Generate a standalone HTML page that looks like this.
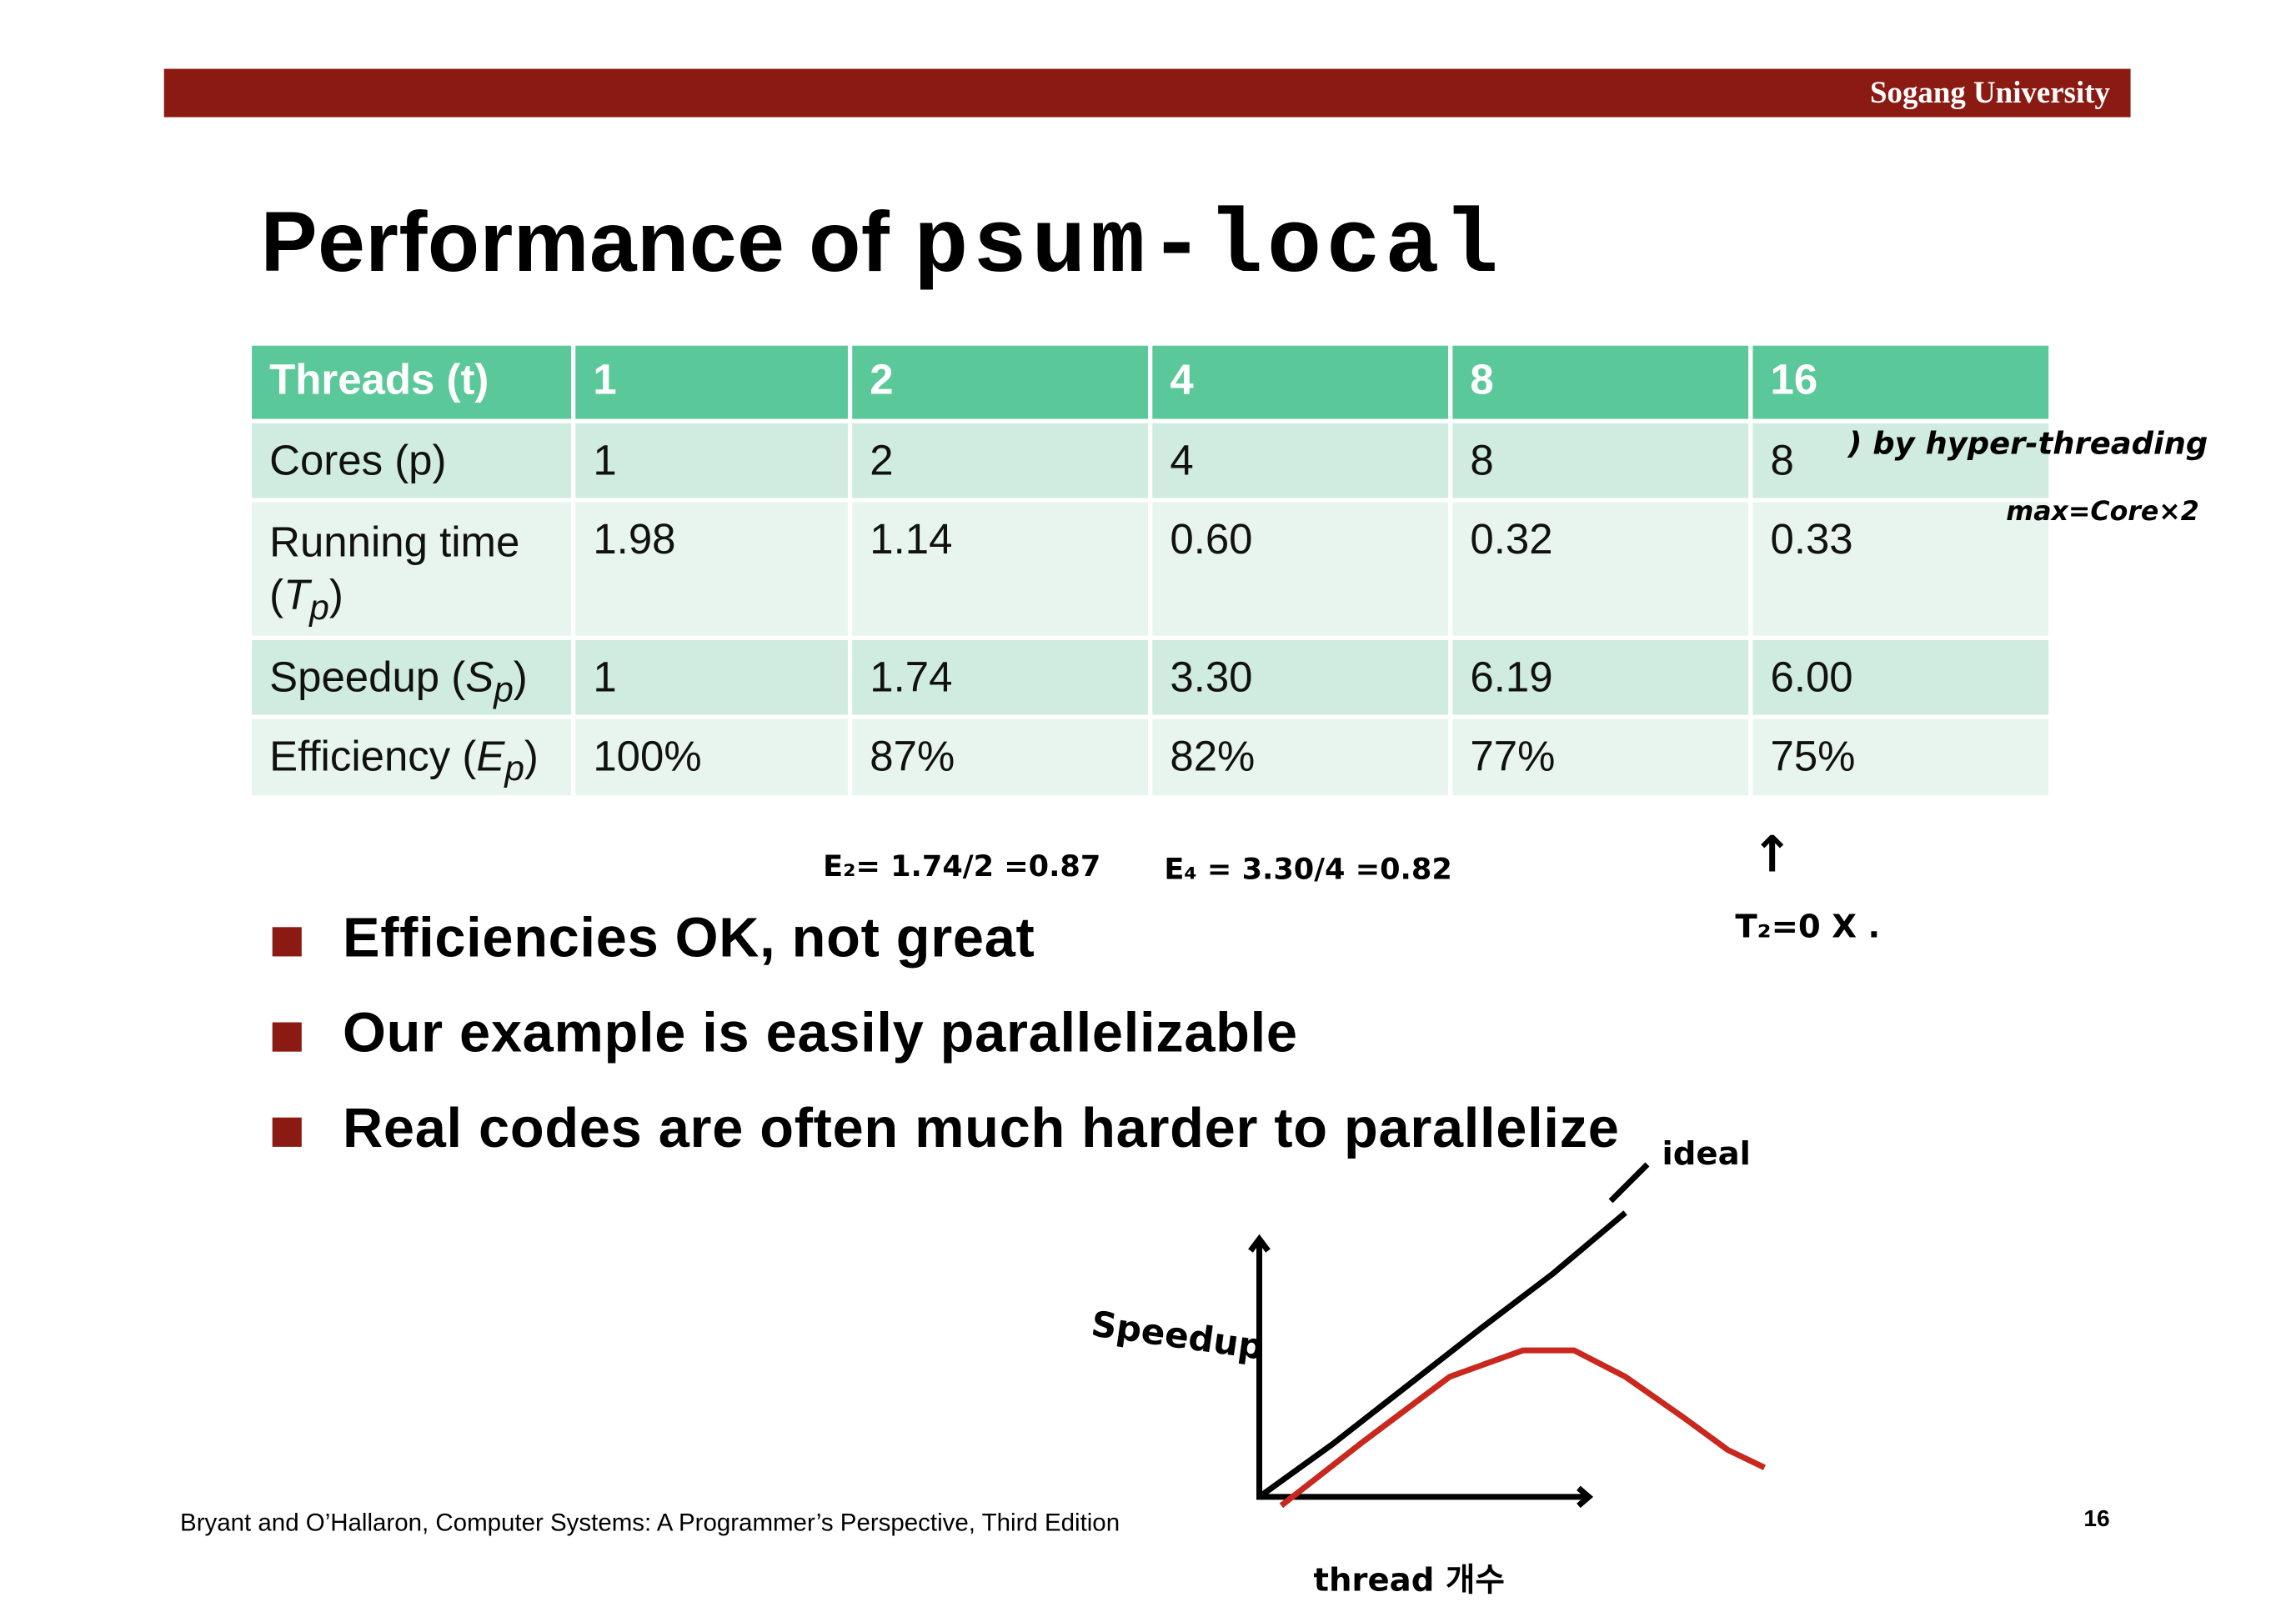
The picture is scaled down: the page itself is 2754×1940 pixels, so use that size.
<!DOCTYPE html>
<html><head><meta charset="utf-8"><style>
html,body{margin:0;padding:0;background:#fff;}
#page{width:1568px;height:1104px;position:relative;transform:scale(1.7564,1.7572);transform-origin:0 0;font-family:"Liberation Sans",sans-serif;overflow:hidden;}
.abs{position:absolute;}
table{border-collapse:separate;border-spacing:3px;}
td{font-size:29px;color:#111;padding:0 0 0 12px;vertical-align:top;box-sizing:border-box;}
sub{line-height:0;}
</style></head><body>
<div id="page">
<div class="abs" style="left:112px;top:47px;width:1343px;height:33px;background:#8B1A12;"></div>
<div class="abs" style="right:127px;top:51px;color:#fff;font:bold 21px 'Liberation Serif',serif;">Sogang University</div>
<div class="abs" style="left:178px;top:132px;font-size:58px;font-weight:bold;color:#000;white-space:nowrap;letter-spacing:0.3px;">Performance of <span style="font-family:'Liberation Mono',monospace;font-size:62px;letter-spacing:3px;">psum-local</span></div>
<table class="abs" style="left:169px;top:233px;">
<tr style="background:#5BC89A;height:50px;">
<td style="width:218px;color:#fff;font-weight:bold;padding-top:8px;">Threads (t)</td><td style="width:186px;color:#fff;font-weight:bold;padding-top:8px;">1</td><td style="width:202px;color:#fff;font-weight:bold;padding-top:8px;">2</td><td style="width:202px;color:#fff;font-weight:bold;padding-top:8px;">4</td><td style="width:202px;color:#fff;font-weight:bold;padding-top:8px;">8</td><td style="width:202px;color:#fff;font-weight:bold;padding-top:8px;">16</td></tr>
<tr style="background:#D0EBDF;height:51px;"><td style="padding-top:10px;">Cores (p)</td><td style="padding-top:10px;">1</td><td style="padding-top:10px;">2</td><td style="padding-top:10px;">4</td><td style="padding-top:10px;">8</td><td style="padding-top:10px;">8</td></tr>
<tr style="background:#E8F5EE;height:91px;"><td style="padding-top:10px;line-height:36px;height:91px;">Running time (<i>T<sub>p</sub></i>)</td><td style="padding-top:10px;">1.98</td><td style="padding-top:10px;">1.14</td><td style="padding-top:10px;">0.60</td><td style="padding-top:10px;">0.32</td><td style="padding-top:10px;">0.33</td></tr>
<tr style="background:#D0EBDF;height:51px;"><td style="padding-top:10px;height:51px;">Speedup (<i>S<sub>p</sub></i>)</td><td style="padding-top:10px;">1</td><td style="padding-top:10px;">1.74</td><td style="padding-top:10px;">3.30</td><td style="padding-top:10px;">6.19</td><td style="padding-top:10px;">6.00</td></tr>
<tr style="background:#E8F5EE;height:52px;"><td style="padding-top:10px;height:52px;">Efficiency (<i>E<sub>p</sub></i>)</td><td style="padding-top:10px;">100%</td><td style="padding-top:10px;">87%</td><td style="padding-top:10px;">82%</td><td style="padding-top:10px;">77%</td><td style="padding-top:10px;">75%</td></tr>
</table>
<div class="abs" style="left:186px;top:620px;font-size:38px;font-weight:bold;white-space:nowrap;letter-spacing:0.4px;"><span style="display:inline-block;width:20px;height:20px;background:#8B1A12;margin-right:28px;"></span>Efficiencies OK, not great</div>
<div class="abs" style="left:186px;top:685px;font-size:38px;font-weight:bold;white-space:nowrap;letter-spacing:0.4px;"><span style="display:inline-block;width:20px;height:20px;background:#8B1A12;margin-right:28px;"></span>Our example is easily parallelizable</div>
<div class="abs" style="left:186px;top:750px;font-size:38px;font-weight:bold;white-space:nowrap;letter-spacing:0.4px;"><span style="display:inline-block;width:20px;height:20px;background:#8B1A12;margin-right:28px;"></span>Real codes are often much harder to parallelize</div>
<div class="abs" style="left:123px;top:1030px;font-size:16.8px;">Bryant and O’Hallaron, Computer Systems: A Programmer’s Perspective, Third Edition</div>
<div class="abs" style="left:1423px;top:1029px;font-size:16px;font-weight:bold;">16</div>
<svg class="abs" id="ink" style="left:0;top:0;" width="1568" height="1104">
<g font-family="'DejaVu Sans',sans-serif" font-weight="bold" fill="#000">
<text x="1262" y="310" font-size="21" font-style="italic">) by hyper-threading</text>
<text x="1370" y="355" font-size="18" font-style="italic">max=Core×2</text>
<text x="562" y="598" font-size="20">E₂= 1.74/2 =0.87</text>
<text x="795" y="600" font-size="20">E₄ = 3.30/4 =0.82</text>
<text x="1196" y="595" font-size="34">↑</text>
<text x="1185" y="640" font-size="22">T₂=0 X .</text>
<text x="1135" y="795" font-size="22">ideal</text>
<text x="745" y="918" font-size="24" transform="rotate(8 790 910)">Speedup</text>
<text x="897" y="1086" font-size="22">thread 개수</text>
</g>
<path d="M1100 820 L1125 795" stroke="#000" stroke-width="4" fill="none"/>
</svg>
</div>
<script>
// sketch chart data (units: x = thread count scale, y = speedup scale)
const idealX = [0, 5, 10, 15, 20, 25];
const idealY = [0, 3.6, 7.5, 11.4, 15.2, 19.4];
const realX = [1.5, 7, 13, 18, 21.5, 25, 29, 32, 34.5];
const realY = [-0.6, 3.7, 8.2, 10, 10, 8.2, 5.4, 3.2, 2];
const ox = 860, oy = 1022, sc = 10;
const xs = v => ox + v * sc;
const ys = v => oy - v * sc;
const svg = document.getElementById('ink');
const NS = 'http://www.w3.org/2000/svg';
function poly(xa, ya, color, name) {
  const p = document.createElementNS(NS, 'polyline');
  p.setAttribute('points', xa.map((x, i) => xs(x) + ',' + ys(ya[i])).join(' '));
  p.setAttribute('fill', 'none');
  p.setAttribute('stroke', color);
  p.setAttribute('stroke-width', '4');
  p.setAttribute('stroke-linejoin', 'round');
  
  
  svg.appendChild(p);
}
const ax = document.createElementNS(NS, 'path');
ax.setAttribute('d', `M${xs(0)} ${ys(17.4)} L${xs(0)} ${ys(0)} L${xs(22.5)} ${ys(0)} M${xs(-0.6)} ${ys(16.8)} L${xs(0)} ${ys(17.6)} L${xs(0.6)} ${ys(16.8)} M${xs(21.8)} ${ys(0.6)} L${xs(22.5)} ${ys(0)} L${xs(21.8)} ${ys(-0.6)}`);
ax.setAttribute('stroke', '#000');
ax.setAttribute('stroke-width', '4');
ax.setAttribute('fill', 'none');


svg.appendChild(ax);
poly(idealX, idealY, '#000', 'ideal-speedup-line');
poly(realX, realY, '#C8281E', 'real-speedup-curve');
</script>
</body></html>
